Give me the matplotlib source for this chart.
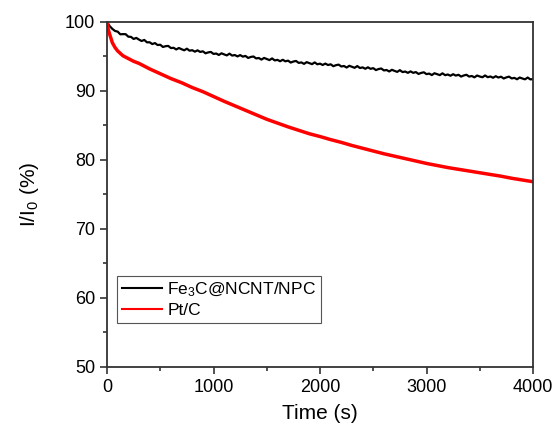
import numpy as np
import matplotlib
matplotlib.use('Agg')
import matplotlib.pyplot as plt
from matplotlib.ticker import MultipleLocator

plt.rcParams['font.family'] = ['Liberation Sans', 'DejaVu Sans']
plt.rcParams['mathtext.default'] = 'regular'

# 时间轴 (s)
t_fe = np.arange(0, 4001, 25)
# Fe3C@NCNT/NPC 电流保持率 (%)
i_fe = [
    100.0, 99.40, 99.00, 98.70, 98.60, 98.21, 98.24, 98.23,
    97.87, 97.84, 97.54, 97.69, 97.45, 97.24, 97.40, 97.05,
    97.06, 96.80, 96.94, 96.66, 96.70, 96.38, 96.49, 96.53,
    96.22, 96.26, 96.02, 96.23, 96.05, 95.90, 96.13, 95.84,
    95.91, 95.70, 95.89, 95.66, 95.75, 95.46, 95.59, 95.66,
    95.37, 95.43, 95.22, 95.46, 95.30, 95.16, 95.41, 95.13,
    95.21, 95.01, 95.20, 94.98, 95.08, 94.79, 94.93, 95.00,
    94.72, 94.78, 94.55, 94.79, 94.63, 94.48, 94.72, 94.43,
    94.51, 94.31, 94.52, 94.30, 94.40, 94.12, 94.27, 94.35,
    94.07, 94.14, 93.93, 94.18, 94.03, 93.89, 94.14, 93.87,
    93.96, 93.77, 93.97, 93.76, 93.87, 93.59, 93.74, 93.82,
    93.55, 93.62, 93.40, 93.65, 93.50, 93.36, 93.61, 93.33,
    93.42, 93.22, 93.43, 93.21, 93.31, 93.03, 93.18, 93.26,
    92.98, 93.04, 92.83, 93.07, 92.91, 92.77, 93.02, 92.74,
    92.82, 92.63, 92.84, 92.63, 92.74, 92.47, 92.62, 92.71,
    92.44, 92.52, 92.31, 92.57, 92.43, 92.30, 92.56, 92.29,
    92.39, 92.21, 92.43, 92.23, 92.35, 92.09, 92.25, 92.35,
    92.09, 92.17, 91.98, 92.24, 92.10, 91.99, 92.25, 92.00,
    92.10, 91.92, 92.14, 91.95, 92.07, 91.81, 91.97, 92.08,
    91.82, 91.90, 91.70, 91.95, 91.81, 91.69, 91.95, 91.68,
    91.72,
]

# Pt/C
t_pt = [0, 10, 25, 50, 75, 100, 150, 200, 250, 300, 400, 500, 600, 700, 800,
        900, 1000, 1100, 1200, 1300, 1400, 1500, 1600, 1700, 1800, 1900, 2000,
        2100, 2200, 2300, 2400, 2500, 2600, 2700, 2800, 2900, 3000, 3100, 3200,
        3300, 3400, 3500, 3600, 3700, 3800, 3900, 4000]
i_pt = [100.0, 99.0, 98.2, 97.0, 96.3, 95.8, 95.1, 94.7, 94.3, 94.0, 93.2,
        92.5, 91.8, 91.2, 90.5, 89.9, 89.2, 88.5, 87.85, 87.2, 86.55, 85.9,
        85.35, 84.8, 84.3, 83.8, 83.4, 82.95, 82.55, 82.1, 81.7, 81.3, 80.9,
        80.55, 80.2, 79.85, 79.5, 79.2, 78.9, 78.65, 78.4, 78.15, 77.9, 77.65,
        77.35, 77.1, 76.85]

fig = plt.figure(figsize=(5.58, 4.37), dpi=100)
ax = fig.add_axes([0.1918, 0.1602, 0.7634, 0.7895])

ax.plot(t_fe, i_fe, color='black', lw=1.6, label='Fe$_3$C@NCNT/NPC')
ax.plot(t_pt, i_pt, color='#ff0000', lw=2.5, label='Pt/C')

ax.set_xlim(0, 4000)
ax.set_ylim(50, 100)
ax.xaxis.set_major_locator(MultipleLocator(1000))
ax.xaxis.set_minor_locator(MultipleLocator(500))
ax.yaxis.set_major_locator(MultipleLocator(10))
ax.yaxis.set_minor_locator(MultipleLocator(5))

for s in ax.spines.values():
    s.set_color('#333333')
    s.set_linewidth(1.3)
ax.tick_params(which='both', direction='out', top=False, right=False,
               color='#333333', width=1.2, labelsize=13, labelcolor='black')
ax.tick_params(which='major', length=5)
ax.tick_params(which='minor', length=3)

ax.set_xlabel('Time (s)', fontsize=15, labelpad=6)
ax.set_ylabel('I/I$_0$ (%)', fontsize=15, labelpad=17)

leg = ax.legend(loc='lower left', bbox_to_anchor=(0.0235, 0.1275),
                borderaxespad=0, fontsize=12.5, handlelength=2.3,
                fancybox=False, framealpha=1, edgecolor='#555555',
                borderpad=0.3, labelspacing=0.2, handletextpad=0.3)
leg.get_frame().set_linewidth(0.8)
for line in leg.get_lines():
    line.set_linewidth(1.5)

plt.savefig('out.png', dpi=100)
